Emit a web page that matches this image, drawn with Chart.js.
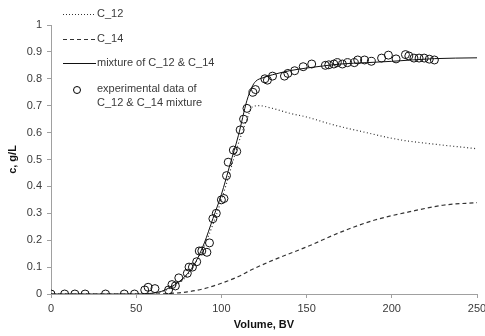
<!DOCTYPE html>
<html>
<head>
<meta charset="utf-8">
<script src="https://cdn.jsdelivr.net/npm/chart.js@4.4.0/dist/chart.umd.min.js"></script>
<style>
  html, body { margin: 0; padding: 0; background: #fff; }
  #wrap { width: 485px; height: 336px; position: relative; }
</style>
</head>
<body>
<div id="wrap"><canvas id="chart" width="485" height="336"></canvas></div>
<script>
// --- Data ---
const expX = [0, 8, 14, 20, 32, 43, 49, 55, 57, 61, 69, 71, 73, 75, 80, 81, 83, 85.5, 87, 88.5,
  91.5, 93, 95, 97, 100, 101.5, 103, 104, 107, 109, 111, 113, 115, 118.5, 120, 125.5, 127, 130,
  137, 139, 143, 148, 153, 161, 163, 166, 168, 171, 174, 178, 180, 184, 188, 194, 198, 202.5,
  208, 210, 213, 216, 219, 222, 225];
const expY = [0, 0, 0, 0, 0, 0, 0, 0.015, 0.025, 0.02, 0.015, 0.035, 0.03, 0.06, 0.077, 0.1, 0.1, 0.12, 0.16, 0.16,
  0.155, 0.19, 0.28, 0.30, 0.35, 0.355, 0.44, 0.49, 0.535, 0.53, 0.61, 0.65, 0.69, 0.75, 0.76, 0.80, 0.795, 0.81,
  0.81, 0.82, 0.83, 0.845, 0.855, 0.85, 0.852, 0.855, 0.86, 0.855, 0.86, 0.86, 0.87, 0.87, 0.865, 0.877, 0.888, 0.874,
  0.89, 0.885, 0.877, 0.877, 0.877, 0.873, 0.87];

const mixX = [0, 50, 60, 65, 70, 75, 80, 85, 90, 95, 100, 105, 110, 115, 118, 120, 125, 130, 140, 150, 160, 170, 185, 200, 225, 250];
const mixY = [0, 0, 0.003, 0.01, 0.025, 0.045, 0.075, 0.12, 0.19, 0.28, 0.37, 0.48, 0.59, 0.72, 0.77, 0.79, 0.805, 0.815, 0.83, 0.84, 0.848, 0.855, 0.86, 0.865, 0.875, 0.878];

const c12X = [0, 50, 60, 70, 80, 90, 100, 110, 115, 118, 122, 130, 140, 150, 165, 185, 205, 225, 250];
const c12Y = [0, 0, 0.003, 0.022, 0.07, 0.18, 0.35, 0.56, 0.65, 0.695, 0.70, 0.69, 0.672, 0.658, 0.63, 0.60, 0.573, 0.557, 0.54];

const c14X = [0, 60, 70, 80, 90, 100, 110, 117, 130, 150, 170, 190, 210, 230, 250];
const c14Y = [0, 0, 0.002, 0.008, 0.02, 0.04, 0.065, 0.088, 0.125, 0.175, 0.23, 0.275, 0.305, 0.33, 0.34];

const xTicks = [0, 50, 100, 150, 200, 250];
const yTicks = [0, 0.1, 0.2, 0.3, 0.4, 0.5, 0.6, 0.7, 0.8, 0.9, 1];

const legendLabels = ['C_12', 'C_14', 'mixture of C_12 & C_14', ['experimental data of', 'C_12 & C_14 mixture']];

const pts = (xs, ys) => xs.map((x, i) => ({ x: x, y: ys[i] }));

const FONT = 'Liberation Sans, Arial, sans-serif';
const TEXT = '#3a3a3a';
const AXIS = '#a0a0a0';

// legend drawn inside the plot area, top-left, like the original
const legendPlugin = {
  id: 'insideLegend',
  afterDraw(chart) {
    const ctx = chart.ctx;
    const x0 = 63, x1 = 96, tx = 97;
    const rows = [14, 39, 63];
    const dashes = [[1, 2], [4, 3], []];
    ctx.save();
    ctx.font = '11px ' + FONT;
    ctx.fillStyle = TEXT;
    ctx.textBaseline = 'middle';
    rows.forEach((y, i) => {
      const ds = chart.data.datasets[i + 1];
      ctx.strokeStyle = ds.borderColor;
      ctx.lineWidth = ds.borderWidth;
      ctx.setLineDash(dashes[i]);
      ctx.beginPath();
      ctx.moveTo(x0, y + 0.5);
      ctx.lineTo(x1, y + 0.5);
      ctx.stroke();
      ctx.fillText(legendLabels[i], tx, y);
    });
    ctx.setLineDash([]);
    ctx.strokeStyle = '#000';
    ctx.lineWidth = 1;
    ctx.beginPath();
    ctx.arc(77, 90, 3.5, 0, Math.PI * 2);
    ctx.stroke();
    ctx.fillText(legendLabels[3][0], tx, 89);
    ctx.fillText(legendLabels[3][1], tx, 103);
    ctx.restore();
  }
};

new Chart(document.getElementById('chart'), {
  type: 'scatter',
  data: {
    datasets: [
      {
        label: 'experimental data',
        data: pts(expX, expY),
        showLine: false,
        pointRadius: 4,
        pointBorderWidth: 1,
        pointBorderColor: '#111',
        pointBackgroundColor: 'rgba(0,0,0,0)'
      },
      {
        label: 'C_12',
        data: pts(c12X, c12Y),
        showLine: true,
        pointRadius: 0,
        borderColor: '#333',
        borderWidth: 1.2,
        borderDash: [1, 2.5],
        cubicInterpolationMode: 'monotone'
      },
      {
        label: 'C_14',
        data: pts(c14X, c14Y),
        showLine: true,
        pointRadius: 0,
        borderColor: '#333',
        borderWidth: 1.2,
        borderDash: [4, 3],
        cubicInterpolationMode: 'monotone'
      },
      {
        label: 'mixture',
        data: pts(mixX, mixY),
        showLine: true,
        pointRadius: 0,
        borderColor: '#111',
        borderWidth: 1,
        cubicInterpolationMode: 'monotone'
      }
    ]
  },
  options: {
    responsive: false,
    animation: false,
    events: [],
    layout: { padding: { left: 6, top: 25, right: 8, bottom: 0 } },
    plugins: {
      legend: { display: false },
      tooltip: { enabled: false }
    },
    scales: {
      x: {
        type: 'linear',
        min: 0,
        max: 250,
        afterBuildTicks: s => { s.ticks = xTicks.map(v => ({ value: v })); },
        afterFit: s => { s.height = 42; s.paddingLeft = 0; s.paddingRight = 0; },
        grid: { drawOnChartArea: false, drawTicks: true, tickLength: 4, color: AXIS },
        border: { display: true, color: AXIS },
        ticks: { color: TEXT, font: { family: FONT, size: 11 }, padding: 4, maxRotation: 0 },
        title: { display: true, text: 'Volume, BV', color: '#111', font: { family: FONT, size: 11, weight: 'bold' }, padding: { top: 5 } }
      },
      y: {
        min: 0,
        max: 1,
        afterBuildTicks: s => { s.ticks = yTicks.map(v => ({ value: v })); },
        afterFit: s => { s.width = 45; s.paddingTop = 0; s.paddingBottom = 0; },
        grid: { drawOnChartArea: false, drawTicks: true, tickLength: 4, color: AXIS },
        border: { display: true, color: AXIS },
        ticks: { color: TEXT, font: { family: FONT, size: 11 }, padding: 5, callback: v => String(Math.round(v * 10) / 10) },
        title: { display: true, text: 'c, g/L', color: '#111', font: { family: FONT, size: 11, weight: 'bold' }, padding: 0 }
      }
    }
  },
  plugins: [legendPlugin]
});
</script>
</body>
</html>
